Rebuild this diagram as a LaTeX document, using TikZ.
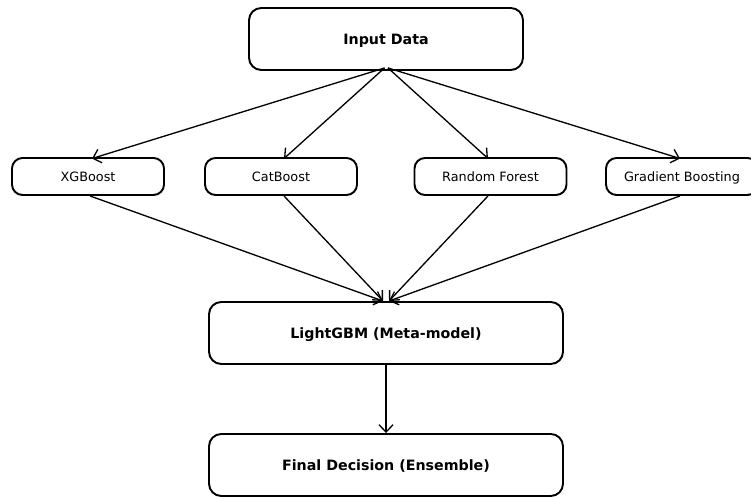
\documentclass[tikz,border=0pt]{standalone}
\usepackage{fontspec}
\setmainfont{DejaVu Sans}
\usetikzlibrary{shapes, arrows.meta, positioning}

\begin{document}
\begin{tikzpicture}[
                >={Straight Barb[length=4.2pt,width=8pt]},
                bigbox/.style={rectangle, draw=black, line width=1.1pt, fill=white, rounded corners=7pt, minimum height=1.24cm, text depth=0pt, font=\fontsize{8.1}{10}\selectfont\bfseries},
                model/.style={rectangle, draw=black, line width=1.1pt, fill=white, rounded corners=6pt, minimum width=3.04cm, minimum height=0.74cm, text depth=0pt, font=\fontsize{7.3}{9}\selectfont},
                flow/.style={->, line width=0.75pt}
            ]
                \useasboundingbox (0,0) rectangle (15.02,9.94);

                \node[bigbox, minimum width=5.48cm] (inp) at (7.72, 9.16) {Input Data};
                \node[model] (xgb) at (1.76, 6.41) {XGBoost};
                \node[model] (cat) at (5.62, 6.41) {CatBoost};
                \node[model] (rf) at (9.81, 6.41) {Random Forest};
                \node[model] (gb) at (13.64, 6.41) {Gradient Boosting};
                \node[bigbox, minimum width=7.08cm] (lgbm) at (7.72, 3.28) {LightGBM (Meta-model)};
                \node[bigbox, minimum width=7.08cm] (final) at (7.72, 0.64) {Final Decision (Ensemble)};

                \draw[flow] ([xshift=-0.03cm, yshift=0.06cm]inp.south) -- ([xshift=0.08cm, yshift=-0.03cm]xgb.north);
                \draw[flow] ([xshift=-0.03cm, yshift=0.06cm]inp.south) -- ([xshift=0.06cm, yshift=-0.03cm]cat.north);
                \draw[flow] ([xshift=0.04cm, yshift=0.06cm]inp.south) -- ([xshift=-0.05cm, yshift=-0.03cm]rf.north);
                \draw[flow] ([xshift=0.04cm, yshift=0.06cm]inp.south) -- ([xshift=-0.04cm, yshift=-0.03cm]gb.north);

                \draw[flow] ([xshift=0.04cm]xgb.south) -- ([xshift=-0.06cm]lgbm.north);
                \draw[flow] ([xshift=0.06cm]cat.south) -- ([xshift=-0.06cm]lgbm.north);
                \draw[flow] ([xshift=-0.05cm]rf.south) -- ([xshift=0.06cm]lgbm.north);
                \draw[flow] ([xshift=-0.04cm]gb.south) -- ([xshift=0.06cm]lgbm.north);

                \draw[flow] ([yshift=0.04cm]lgbm.south) -- (final.north);
            \end{tikzpicture}
\end{document}
